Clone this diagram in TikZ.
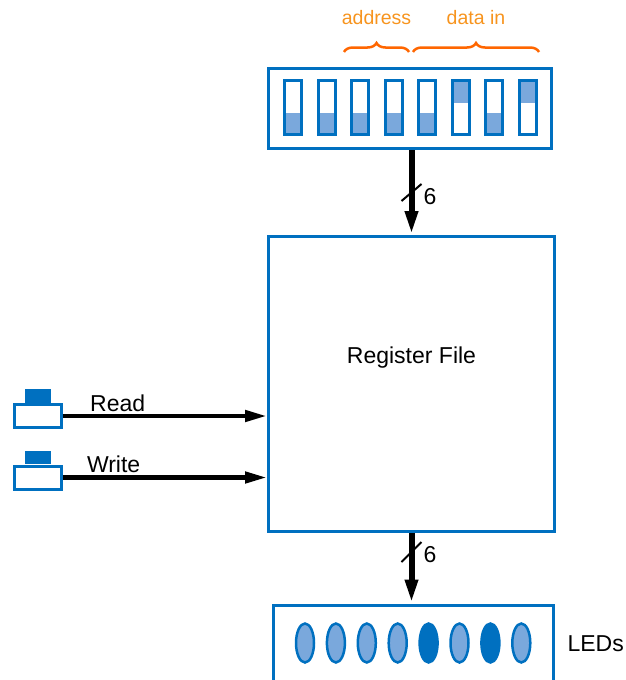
\documentclass[tikz,border=0pt]{standalone}
\usepackage{fontspec}
\setmainfont{Liberation Sans}
\usetikzlibrary{arrows.meta, positioning, shapes.geometric, decorations.pathreplacing, calc}
\definecolor{swblue}{RGB}{0,112,192}
\definecolor{swlight}{RGB}{122,168,220}
\definecolor{bracecol}{RGB}{255,102,0}
\definecolor{labelcol}{RGB}{247,148,30}

\begin{document}
\begin{tikzpicture}[x=1pt, y=-1pt, font=\fontsize{23}{27}\selectfont,
      box/.style={rectangle, draw=swblue, line width=3pt, inner sep=0pt},
      switch/.style={box, fill=white, minimum width=17pt, minimum height=54pt},
      swfill/.style={path picture={
          \ifnum#1=1
            \fill[swlight] (path picture bounding box.north west) rectangle ([yshift=-22.5pt]path picture bounding box.north east);
          \else
            \fill[swlight] (path picture bounding box.south west) rectangle ([yshift=21.5pt]path picture bounding box.south east);
          \fi}},
      led/.style={ellipse, draw=swblue, line width=2.5pt, minimum width=18pt,
                  minimum height=39pt, inner sep=0pt},
      btncap/.style={fill=swblue, minimum width=26pt, minimum height=13.5pt, inner sep=0pt},
      brace/.style={decorate, decoration={brace, amplitude=9pt}, draw=bracecol,
                    line width=2.5pt},
      bracelabel/.style={text=labelcol, font=\fontsize{19.5}{23}\selectfont},
      bus/.style={-{Triangle[length=24pt, width=12pt]}, line width=6pt},
      sig/.style={-{Triangle[length=22pt, width=11pt]}, line width=4.5pt},
      slash/.style={line width=2pt}]

    \useasboundingbox (0,0) rectangle (626,680);

    % switch bank
    \node[box, minimum width=283pt, minimum height=80pt] (dip) at (410,108.5) {};
    \foreach \up [count=\i] in {0,0,0,0,0,1,0,1}
      \node[switch, swfill=\up] (sw\i) at ({293+33.57*(\i-1)},107.5) {};

    \coordinate (addrL) at (344,52);
    \coordinate (addrR) at (409,52);
    \coordinate (dataL) at (413,52);
    \coordinate (dataR) at (539,52);
    \draw[brace] (addrL) -- node[bracelabel, above=23pt]{address} (addrR);
    \draw[brace] (dataL) -- node[bracelabel, above=23pt]{data in} (dataR);

    % register file
    \node[box, minimum width=286pt, minimum height=295pt,
          label={[yshift=26pt]center:Register File}] (regfile) at (411.5,384) {};

    % LEDs
    \node[box, minimum width=280pt, minimum height=78pt] (leds) at (413.5,644) {};
    \foreach \col [count=\i] in {swlight,swlight,swlight,swlight,swblue,swlight,swblue,swlight}
      \node[led, fill=\col] (led\i) at ({305+30.9*(\i-1)},643) {};
    \node[right=9pt of leds] (ledlabel) {LEDs};

    % buses
    \draw[bus] (dip.south -| regfile.north) -- (regfile.north);
    \coordinate (w1) at ($(dip.south -| regfile.north)!0.5!(regfile.north)$);
    \draw[slash] ([shift={(-10,8.5)}]w1) -- ([shift={(10,-8.5)}]w1);
    \node[right=12pt of w1, yshift=-4pt, inner sep=0pt] (width1) {6};

    \draw[bus] (regfile.south) -- (leds.north -| regfile.south);
    \coordinate (w2) at ($(regfile.south)!0.27!(leds.north -| regfile.south)$);
    \draw[slash] ([shift={(-10,10)}]w2) -- ([shift={(10,-10)}]w2);
    \node[right=12pt of w2, yshift=-3pt, inner sep=0pt] (width2) {6};

    % push buttons
    \node[box, fill=white, minimum width=47pt, minimum height=23pt] (btnread) at (37.5,416) {};
    \node[btncap, above=0pt of btnread] (capread) {};
    \node[box, fill=white, minimum width=47pt, minimum height=23pt] (btnwrite) at (37.5,477.5) {};
    \node[btncap, above=0pt of btnwrite] (capwrite) {};

    \draw[sig] (btnread) -- node[above=-1pt, pos=0.27]{Read} (btnread -| regfile.west);
    \draw[sig] (btnwrite) -- node[above=-1pt, pos=0.25]{Write} (btnwrite -| regfile.west);
  \end{tikzpicture}
\end{document}
